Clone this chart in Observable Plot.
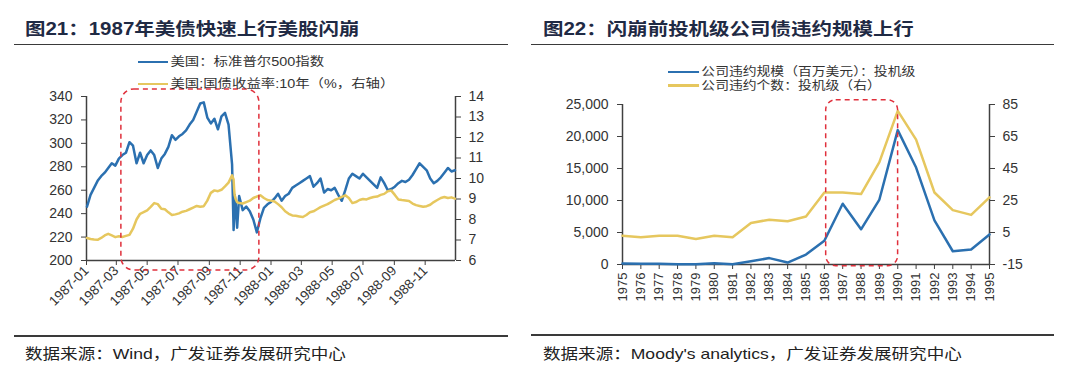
<!DOCTYPE html>
<html>
<head>
<meta charset="utf-8">
<script src="https://cdn.jsdelivr.net/npm/d3@7"></script>
<script src="https://cdn.jsdelivr.net/npm/@observablehq/plot@0.6"></script>
<style>
  html, body { margin: 0; padding: 0; background: #fff; }
  body { width: 1080px; height: 374px; position: relative; overflow: hidden; font-family: "Liberation Sans", Arial, sans-serif; }
  .title { position: absolute; font-family: "Liberation Sans", "Noto Sans CJK SC", sans-serif; font-weight: bold; font-size: 17.5px; line-height: 1; color: #1f2a44; white-space: nowrap; transform: scaleX(1.17); transform-origin: left center; }
  .hr { position: absolute; height: 1.5px; background: #3a3a3a; }
  .legend { position: absolute; display: flex; align-items: center; font-family: "Liberation Sans", "Noto Sans CJK SC", sans-serif; font-size: 12px; line-height: 1; color: #333; white-space: nowrap; z-index: 3; transform-origin: left center; }
  .sw { height: 2.5px; margin-right: 2px; }
  .cap { position: absolute; font-family: "Liberation Sans", "Noto Sans CJK SC", sans-serif; font-size: 15px; line-height: 1; color: #222; white-space: nowrap; transform: scaleX(1.17); transform-origin: left center; }
  .plot { position: absolute; z-index: 1; }
</style>
</head>
<body>
<div class="title" style="left:25px; top:21px;">图21：1987年美债快速上行美股闪崩</div>
<div class="hr" style="left:14px; width:494px; top:43.5px;"></div>
<div class="title" style="left:543px; top:21px;">图22：闪崩前投机级公司债违约规模上行</div>
<div class="hr" style="left:531px; width:523px; top:43.5px;"></div>

<div class="legend" style="left:138px; top:56px; transform:scaleX(1.2);"><div class="sw" style="width:25px; background:#2b70b0"></div>美国：标准普尔500指数</div>
<div class="legend" style="left:138px; top:78px; transform:scaleX(1.2);"><div class="sw" style="width:25px; background:#e6c75e"></div>美国:国债收益率:10年（%，右轴）</div>
<div class="legend" style="left:668px; top:66px; transform:scaleX(1.15);"><div class="sw" style="width:27px; background:#2b70b0"></div>公司违约规模（百万美元）：投机级</div>
<div class="legend" style="left:668px; top:79.5px; transform:scaleX(1.15);"><div class="sw" style="width:27px; background:#e6c75e"></div>公司违约个数：投机级（右）</div>

<div id="p1" class="plot" style="left:0px; top:80px;"></div>
<div id="p2" class="plot" style="left:540px; top:90px;"></div>

<div class="hr" style="left:14px; width:494px; top:335px;"></div>
<div class="hr" style="left:531px; width:523px; top:334px;"></div>
<div class="cap" style="left:25px; top:345.5px;">数据来源：Wind，广发证券发展研究中心</div>
<div class="cap" style="left:543px; top:345.5px;">数据来源：Moody's analytics，广发证券发展研究中心</div>

<script>
// ---------- Chart 1 data: S&P 500 and US 10Y yield, 1987-1988 ----------
const weeks = [
  "1987-01-02","1987-01-09","1987-01-16","1987-01-23","1987-01-30",
  "1987-02-06","1987-02-13","1987-02-20","1987-02-27",
  "1987-03-06","1987-03-13","1987-03-20","1987-03-27",
  "1987-04-03","1987-04-10","1987-04-17","1987-04-24",
  "1987-05-01","1987-05-08","1987-05-15","1987-05-22","1987-05-29",
  "1987-06-05","1987-06-12","1987-06-19","1987-06-26",
  "1987-07-03","1987-07-10","1987-07-17","1987-07-24","1987-07-31",
  "1987-08-07","1987-08-14","1987-08-21","1987-08-28",
  "1987-09-04","1987-09-11","1987-09-18","1987-09-25",
  "1987-10-02","1987-10-09","1987-10-16","1987-10-19","1987-10-20","1987-10-21","1987-10-23","1987-10-26","1987-10-30",
  "1987-11-06","1987-11-13","1987-11-20","1987-11-27",
  "1987-12-04","1987-12-11","1987-12-18","1987-12-25",
  "1988-01-01","1988-01-08","1988-01-15","1988-01-22","1988-01-29",
  "1988-02-05","1988-02-12","1988-02-19","1988-02-26",
  "1988-03-04","1988-03-11","1988-03-18","1988-03-25",
  "1988-04-01","1988-04-08","1988-04-15","1988-04-22","1988-04-29",
  "1988-05-06","1988-05-13","1988-05-20","1988-05-27",
  "1988-06-03","1988-06-10","1988-06-17","1988-06-24",
  "1988-07-01","1988-07-08","1988-07-15","1988-07-22","1988-07-29",
  "1988-08-05","1988-08-12","1988-08-19","1988-08-26",
  "1988-09-02","1988-09-09","1988-09-16","1988-09-23","1988-09-30",
  "1988-10-07","1988-10-14","1988-10-21","1988-10-28",
  "1988-11-04","1988-11-11","1988-11-18","1988-11-25",
  "1988-12-02","1988-12-09","1988-12-16","1988-12-23","1988-12-30"
];
const spx = [
  246,256,262,268,272,
  275,279,283,281,
  287,290,292,301,
  298,283,292,283,
  290,294,290,279,287,
  291,297,307,303,
  306,308,311,316,320,
  327,334,335,322,
  317,321,312,323,
  326,316,282,226,236,256,250,228,255,
  243,246,242,235,
  224,236,245,248,
  250,253,257,251,255,
  257,262,264,266,
  268,270,272,263,
  266,270,258,261,260,
  262,256,251,260,
  270,274,272,270,
  274,271,268,265,262,
  271,266,260,261,
  263,266,268,267,269,
  273,278,283,280,
  277,270,266,268,
  271,275,279,276,277
];
const ust10y = [
  7.10,7.05,7.02,7.01,7.10,
  7.22,7.30,7.22,7.14,
  7.18,7.15,7.20,7.25,
  7.55,8.00,8.28,8.36,
  8.45,8.62,8.80,8.75,8.52,
  8.50,8.35,8.22,8.25,
  8.30,8.38,8.42,8.50,8.58,
  8.66,8.62,8.65,8.92,
  9.30,9.42,9.38,9.45,
  9.62,9.80,10.15,9.95,9.50,9.20,9.00,8.85,8.80,
  8.78,8.85,8.92,9.05,
  9.12,9.18,9.05,8.95,
  8.92,8.88,8.75,8.60,8.40,
  8.28,8.20,8.18,8.15,
  8.12,8.22,8.35,8.40,
  8.50,8.60,8.68,8.75,8.85,
  8.95,9.02,9.10,9.18,
  9.05,8.80,8.85,8.95,
  9.00,8.98,9.05,9.10,9.12,
  9.20,9.25,9.38,9.41,
  9.20,8.98,8.95,8.93,8.90,
  8.78,8.70,8.66,8.62,
  8.65,8.72,8.85,8.95,
  9.05,9.10,9.05,9.08,9.02
];
const xTickLabels1 = ["1987-01","1987-03","1987-05","1987-07","1987-09","1987-11","1988-01","1988-03","1988-05","1988-07","1988-09","1988-11"];
const leftTicks1 = [200,220,240,260,280,300,320,340];
const rightTicks1 = [6,7,8,9,10,11,12,13,14];
const highlight1 = {start: "1987-03-11", end: "1987-12-09", low: 191.5, high: 346};

// ---------- Chart 2 data: speculative-grade corporate defaults ----------
const years = [1975,1976,1977,1978,1979,1980,1981,1982,1983,1984,1985,1986,1987,1988,1989,1990,1991,1992,1993,1994,1995];
const defaultVolume = [150,100,100,50,50,200,50,500,1000,300,1550,3700,9500,5500,10150,21000,15150,6900,2070,2350,4700];
const defaultCount = [3,2,3,3,1,3,2,11,13,12,15,30,30,29,49,81,63,30,19,16,27];
const leftTicks2 = [0,5000,10000,15000,20000,25000];
const rightTicks2 = [-15,5,25,45,65,85];
const highlight2 = {start: 1986.1, end: 1990.02, low: -265, high: 25670};

const blue = "#2b70b0", gold = "#e6c75e", red = "#e0303c", axisColor = "#404040";

// ---- chart 1 ----
const toLeft1 = r => 200 + (r - 6) * 140 / 8;
const fromLeft1 = v => 6 + (v - 200) * 8 / 140;
const rows1 = weeks.map((d, i) => ({date: new Date(d), spx: spx[i], ust: toLeft1(ust10y[i])}));
const x1Domain = [new Date("1987-01-01"), new Date("1988-12-31")];

const p1 = Plot.plot({
  width: 540, height: 230,
  marginTop: 16, marginBottom: 50, marginLeft: 86, marginRight: 85,
  style: {background: "transparent", fontFamily: "Liberation Sans, Arial, sans-serif", fontSize: "13px", color: axisColor},
  x: {type: "utc", domain: x1Domain},
  y: {domain: [200, 340]},
  marks: [
    Plot.axisY({ticks: leftTicks1, tickSize: 5, tickPadding: 9, fontSize: 14, label: null, fill: "#333"}),
    Plot.axisY({anchor: "right", ticks: rightTicks1.map(toLeft1), tickFormat: v => String(Math.round(fromLeft1(v))), tickSize: 5, tickPadding: 8, fontSize: 14, label: null, fill: "#333"}),
    Plot.axisX({ticks: xTickLabels1.map(s => new Date(s + "-01")), tickFormat: d3.utcFormat("%Y-%m"), tickRotate: -45, tickSize: 5, tickPadding: 3, fontSize: 13.5, label: null, fill: "#333"}),
    Plot.ruleY([200], {stroke: axisColor, strokeWidth: 1.5}),
    Plot.ruleX(x1Domain, {stroke: axisColor, strokeWidth: 1.5}),
    Plot.line(rows1, {x: "date", y: "spx", stroke: blue, strokeWidth: 2.5}),
    Plot.line(rows1, {x: "date", y: "ust", stroke: gold, strokeWidth: 2.5}),
    Plot.rect([highlight1], {x1: d => new Date(d.start), x2: d => new Date(d.end), y1: "low", y2: "high", fill: "none", stroke: red, strokeWidth: 1.5, strokeDasharray: "5,4", rx: 13})
  ]
});
document.getElementById("p1").appendChild(p1);

// ---- chart 2 ----
const toLeft2 = r => (r + 15) * 250;
const fromLeft2 = v => v / 250 - 15;
const rows2 = years.map((y, i) => ({year: y, vol: defaultVolume[i], cnt: toLeft2(defaultCount[i])}));

const p2 = Plot.plot({
  width: 540, height: 230,
  marginTop: 14, marginBottom: 56, marginLeft: 82, marginRight: 91,
  style: {background: "transparent", fontFamily: "Liberation Sans, Arial, sans-serif", fontSize: "13px", color: axisColor},
  x: {domain: [1975, 1995]},
  y: {domain: [0, 25000]},
  marks: [
    Plot.axisY({ticks: leftTicks2, tickFormat: d3.format(","), tickSize: 5, tickPadding: 9, fontSize: 14, label: null, fill: "#333"}),
    Plot.axisY({anchor: "right", ticks: rightTicks2.map(toLeft2), tickFormat: v => String(Math.round(fromLeft2(v))), tickSize: 5, tickPadding: 8, fontSize: 14, label: null, fill: "#333"}),
    Plot.axisX({ticks: years, tickFormat: d => String(d), tickRotate: -90, tickSize: 5, tickPadding: 3, fontSize: 13, label: null, fill: "#333"}),
    Plot.ruleY([0], {stroke: axisColor, strokeWidth: 1.5}),
    Plot.ruleX([1975, 1995], {stroke: axisColor, strokeWidth: 1.5}),
    Plot.line(rows2, {x: "year", y: "cnt", stroke: gold, strokeWidth: 2.5}),
    Plot.line(rows2, {x: "year", y: "vol", stroke: blue, strokeWidth: 2.5}),
    Plot.rect([highlight2], {x1: "start", x2: "end", y1: "low", y2: "high", fill: "none", stroke: red, strokeWidth: 1.5, strokeDasharray: "5,4", rx: 10})
  ]
});
document.getElementById("p2").appendChild(p2);
</script>
</body>
</html>
